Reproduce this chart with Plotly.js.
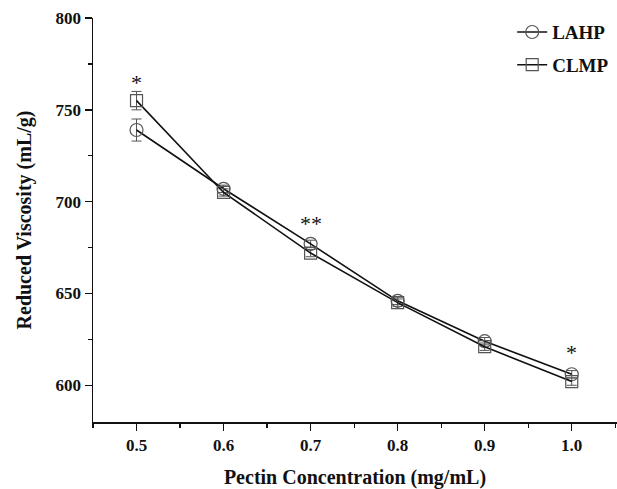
<!DOCTYPE html>
<html><head><meta charset="utf-8">
<script src="https://cdn.plot.ly/plotly-3.0.1.min.js"></script>
<style>html,body{margin:0;padding:0;background:#fff}</style>
</head><body>
<div id="chart" style="width:617px;height:489px"></div>
<script>
const conc = [0.5, 0.6, 0.7, 0.8, 0.9, 1.0];
const lahp = [739, 707, 677, 646, 624, 606];
const lahpErr = [6, 2, 2, 2, 2, 2];
const clmp = [755, 705, 672, 645, 621, 602];
const clmpErr = [5, 2, 2, 2, 2, 2];
const sigX = [0.5, 0.7, 1.0];
const sigY = [757, 680, 610];
const sigText = ['*', '**', '*'];
const xTicks = [0.5, 0.6, 0.7, 0.8, 0.9, 1.0];
const xTickText = ['0.5', '0.6', '0.7', '0.8', '0.9', '1.0'];
const yTicks = [600, 650, 700, 750, 800];
const yTickText = ['600', '650', '700', '750', '800'];

const font = 'Liberation Serif, Times New Roman, serif';
const bold = a => a.map(t => '<b>' + t + '</b>');
const traces = [
  {x: conc, y: lahp, name: '<b>LAHP</b>', type: 'scatter', mode: 'lines+markers', legendgroup: 'a',
   line: {color: '#111', width: 1.6},
   marker: {symbol: 'circle-open', size: 13, color: '#555', line: {width: 1.2, color: '#555'}},
   error_y: {type: 'data', array: lahpErr, visible: true, color: '#555', thickness: 1, width: 5}},
  {x: conc, y: clmp, name: '<b>CLMP</b>', type: 'scatter', mode: 'lines+markers', legendgroup: 'b',
   line: {color: '#111', width: 1.6},
   marker: {symbol: 'square-open', size: 12, color: '#555', line: {width: 1.2, color: '#555'}},
   error_y: {type: 'data', array: clmpErr, visible: true, color: '#555', thickness: 1, width: 5}}
];
const annotations = sigX.map((x, i) => ({
  x: x, y: sigY[i], xref: 'x', yref: 'y', text: sigText[i], showarrow: false,
  yanchor: 'bottom', font: {family: font, size: 22, color: '#111'}
}));
const layout = {
  width: 617, height: 489,
  margin: {l: 93, r: 0, t: 18, b: 67},
  paper_bgcolor: '#fff', plot_bgcolor: '#fff',
  showlegend: true,
  legend: {x: 0.80, y: 1.012, xanchor: 'left', yanchor: 'top', bgcolor: 'rgba(0,0,0,0)',
           font: {family: font, size: 19, color: '#111'}, traceorder: 'grouped', tracegroupgap: 5},
  xaxis: {range: [0.45, 1.052], tickvals: xTicks, ticktext: bold(xTickText), showgrid: false, zeroline: false,
          showline: true, linecolor: '#111', linewidth: 1.5, ticks: 'outside', ticklen: 7, tickwidth: 1.5,
          tickcolor: '#111', tickfont: {family: font, size: 17, color: '#111'},
          minor: {dtick: 0.05, ticks: 'outside', ticklen: 4, tickwidth: 1.2, tickcolor: '#111'},
          title: {text: '<b>Pectin Concentration (mg/mL)</b>', font: {family: font, size: 20, color: '#111'}, standoff: 22}},
  yaxis: {range: [580, 800], tickvals: yTicks, ticktext: bold(yTickText), showgrid: false, zeroline: false,
          showline: true, linecolor: '#111', linewidth: 1.5, ticks: 'outside', ticklen: 7, tickwidth: 1.5,
          tickcolor: '#111', tickfont: {family: font, size: 17, color: '#111'},
          minor: {dtick: 25, ticks: 'outside', ticklen: 4, tickwidth: 1.2, tickcolor: '#111'},
          title: {text: '<b>Reduced Viscosity (mL/g)</b>', font: {family: font, size: 20, color: '#111'}, standoff: 18}},
  annotations: annotations
};
Plotly.newPlot('chart', traces, layout, {displayModeBar: false, staticPlot: true});
</script>
</body></html>
